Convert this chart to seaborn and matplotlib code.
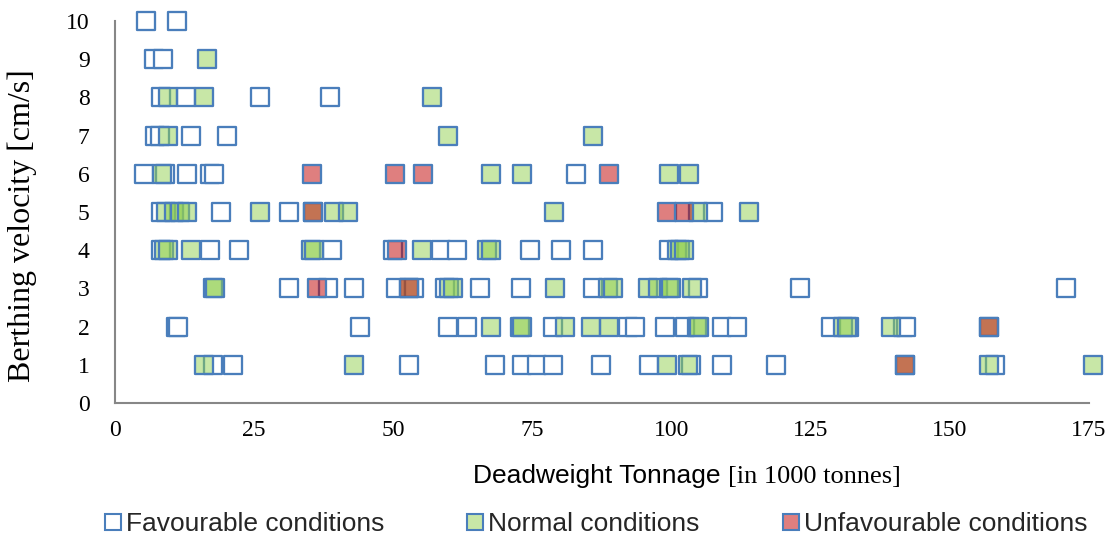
import matplotlib
matplotlib.use("Agg")
import matplotlib.pyplot as plt
from matplotlib.lines import Line2D
from matplotlib.offsetbox import TextArea, HPacker, AnchoredOffsetbox
import seaborn as sns
import pandas as pd

# ---------------- data (DWT in 1000 t, berthing velocity in cm/s) ----------------
fav_dwt = [5.5, 11.2,
           7.0, 8.6,
           8.3, 12.8, 26.0, 38.6,
           7.1, 8.0, 13.7, 20.1,
           5.3, 8.9, 13.0, 17.0, 17.8, 82.8,
           8.3, 19.1, 31.2, 107.4,
           8.2, 17.0, 22.3, 39.0, 50.0, 58.6, 61.4, 74.5, 80.2, 85.9, 99.5,
           31.2, 38.3, 42.9, 50.5, 53.8, 59.3, 65.6, 73.0, 85.9, 104.7, 123.0, 170.8,
           11.0, 11.3, 44.1, 59.9, 63.2, 78.7, 92.2, 93.5, 98.9, 102.5, 109.0, 111.8,
           128.6, 131.9, 141.6, 142.2,
           17.6, 21.2, 52.8, 68.2, 73.2, 75.9, 78.7, 87.4, 95.9, 103.5, 109.1, 118.8, 158.2]
fav_vel = [10, 10,
           9, 9,
           8, 8, 8, 8,
           7, 7, 7, 7,
           6, 6, 6, 6, 6, 6,
           5, 5, 5, 5,
           4, 4, 4, 4, 4, 4, 4, 4, 4, 4, 4,
           3, 3, 3, 3, 3, 3, 3, 3, 3, 3, 3, 3,
           2, 2, 2, 2, 2, 2, 2, 2, 2, 2, 2, 2,
           2, 2, 2, 2,
           1, 1, 1, 1, 1, 1, 1, 1, 1, 1, 1, 1, 1]

norm_dwt = [16.5,
            9.5, 16.0, 57.0,
            9.6, 59.9, 85.9,
            8.4, 67.6, 73.2, 99.5, 103.2,
            9.2, 10.6, 11.6, 13.0, 26.0, 35.5, 39.3, 41.9, 78.8, 104.7, 114.0,
            8.8, 9.6, 13.7, 35.2, 35.8, 55.2, 66.9, 67.6, 101.0, 101.6, 102.2,
            17.6, 18.0, 52.8, 60.1, 60.7, 79.1, 88.6, 89.5, 95.8, 97.6, 99.5, 99.9, 103.6,
            67.6, 72.7, 73.1, 80.9, 85.6, 88.8, 104.6, 105.0, 130.8, 131.5, 139.5, 157.1,
            16.0, 42.9, 99.2, 102.9, 141.9, 157.0, 175.8]
norm_vel = [9,
            8, 8, 8,
            7, 7, 7,
            6, 6, 6, 6, 6,
            5, 5, 5, 5, 5, 5, 5, 5, 5, 5, 5,
            4, 4, 4, 4, 4, 4, 4, 4, 4, 4, 4,
            3, 3, 3, 3, 3, 3, 3, 3, 3, 3, 3, 3, 3,
            2, 2, 2, 2, 2, 2, 2, 2, 2, 2, 2, 2,
            1, 1, 1, 1, 1, 1, 1]

unfav_dwt = [35.4, 50.3, 55.3, 88.8,
             35.5, 99.1, 102.3,
             50.6,
             36.3, 52.8,
             157.1,
             141.9]
unfav_vel = [6, 6, 6, 6,
             5, 5, 5,
             4,
             3, 3,
             2,
             1]

series_labels = ["Favourable conditions", "Normal conditions", "Unfavourable conditions"]
x_ticks = [0, 25, 50, 75, 100, 125, 150, 175]
y_ticks = list(range(0, 11))

# ---------------- style ----------------
sns.set_style("white")
plt.rcParams["font.family"] = ["Liberation Serif", "DejaVu Serif"]

EDGE = "#4A7EBB"
FACE_FAV = (1, 1, 1, 1)
FACE_NORM = (146 / 255, 208 / 255, 80 / 255, 0.5)
FACE_UNF = (192 / 255, 0, 0, 0.5)
AXIS_GREY = "#878787"
SERIF = ["Liberation Serif", "DejaVu Serif"]
SANS = ["Liberation Sans", "DejaVu Sans"]

fig = plt.figure(figsize=(11.18, 5.41), dpi=100)
ax = fig.add_axes([115 / 1118, 138 / 541, 974 / 1118, 382 / 541])

frames = [
    (pd.DataFrame({"dwt": fav_dwt, "vel": fav_vel}), FACE_FAV, 2),
    (pd.DataFrame({"dwt": norm_dwt, "vel": norm_vel}), FACE_NORM, 3),
    (pd.DataFrame({"dwt": unfav_dwt, "vel": unfav_vel}), FACE_UNF, 4),
]
for df, face, z in frames:
    sns.scatterplot(data=df, x="dwt", y="vel", ax=ax, marker="s", s=150,
                    color=face, edgecolor=EDGE, linewidth=1.65,
                    zorder=z, clip_on=False, legend=False)

ax.set_xlim(0, 175)
ax.set_ylim(0, 10)
ax.set_xticks(x_ticks)
ax.set_yticks(y_ticks)

for side in ["top", "right"]:
    ax.spines[side].set_visible(False)
for side in ["left", "bottom"]:
    ax.spines[side].set_color(AXIS_GREY)
    ax.spines[side].set_linewidth(1.5)
    ax.spines[side].set_zorder(1)

ax.tick_params(axis="both", which="major", direction="out", color=AXIS_GREY,
               width=1.3, labelcolor="black")
ax.tick_params(axis="y", length=5.8, pad=12.5)
ax.tick_params(axis="x", length=5.0, pad=7)
ax.set_xticklabels([str(t) for t in x_ticks], fontsize=17, family=SERIF)
ax.set_yticklabels([str(t) for t in y_ticks], fontsize=17, family=SERIF)

ax.set_xlabel("")
ax.set_ylabel("Berthing velocity [cm/s]", fontsize=23, family=SERIF, color="black")
ax.yaxis.set_label_coords((37 - 115) / 974, (403 - 226) / 382)

# mixed-font x axis title
ta1 = TextArea("Deadweight Tonnage",
               textprops=dict(family=SANS, size=19, color="black"))
ta2 = TextArea("[in 1000 tonnes]",
               textprops=dict(family=SERIF, size=19, color="black"))
pack = HPacker(children=[ta1, ta2], align="baseline", pad=0, sep=5)
anch = AnchoredOffsetbox(loc="center", child=pack, pad=0, borderpad=0, frameon=False,
                         bbox_to_anchor=(687 / 1118, (541 - 476) / 541),
                         bbox_transform=fig.transFigure)
fig.add_artist(anch)

# legend
handles = [
    Line2D([], [], linestyle="none", marker="s", markersize=11.5,
           markerfacecolor=FACE_FAV, markeredgecolor=EDGE, markeredgewidth=1.5),
    Line2D([], [], linestyle="none", marker="s", markersize=11.5,
           markerfacecolor=FACE_NORM, markeredgecolor=EDGE, markeredgewidth=1.5),
    Line2D([], [], linestyle="none", marker="s", markersize=11.5,
           markerfacecolor=FACE_UNF, markeredgecolor=EDGE, markeredgewidth=1.5),
]
fig.legend(handles, series_labels, loc="center", ncol=3, frameon=False,
           bbox_to_anchor=(595.5 / 1118, (541 - 524) / 541),
           bbox_transform=fig.transFigure,
           prop=dict(family=SANS, size=19),
           handlelength=0.7, handletextpad=0.15, columnspacing=3.1,
           borderpad=0, borderaxespad=0)

fig.savefig("out.png", dpi=100)
